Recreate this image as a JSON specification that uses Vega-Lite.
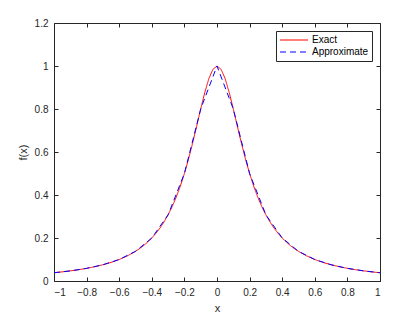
{
  "$schema": "https://vega.github.io/schema/vega-lite/v6.json",
  "width": 326,
  "height": 258,
  "autosize": {"type": "none"},
  "padding": {"left": 54, "top": 23, "right": 40, "bottom": 34},
  "background": "white",
  "config": {
    "view": {"stroke": null},
    "font": "Liberation Sans",
    "axis": {
      "grid": false,
      "domainColor": "#262626",
      "tickColor": "#262626",
      "labelColor": "#262626",
      "titleColor": "#262626",
      "labelFont": "Liberation Sans",
      "titleFont": "Liberation Sans",
      "labelFontSize": 10,
      "titleFontSize": 11,
      "titleFontWeight": "normal",
      "tickSize": -4,
      "labelPadding": 10
    }
  },
  "data": {
    "values": [
      {"x": -1, "y": 0.03846, "series": "Exact"},
      {"x": -0.95, "y": 0.04244, "series": "Exact"},
      {"x": -0.9, "y": 0.04706, "series": "Exact"},
      {"x": -0.85, "y": 0.05246, "series": "Exact"},
      {"x": -0.8, "y": 0.05882, "series": "Exact"},
      {"x": -0.75, "y": 0.06639, "series": "Exact"},
      {"x": -0.7, "y": 0.07547, "series": "Exact"},
      {"x": -0.65, "y": 0.08649, "series": "Exact"},
      {"x": -0.6, "y": 0.1, "series": "Exact"},
      {"x": -0.55, "y": 0.11679, "series": "Exact"},
      {"x": -0.5, "y": 0.13793, "series": "Exact"},
      {"x": -0.475, "y": 0.15059, "series": "Exact"},
      {"x": -0.45, "y": 0.16495, "series": "Exact"},
      {"x": -0.425, "y": 0.1813, "series": "Exact"},
      {"x": -0.4, "y": 0.2, "series": "Exact"},
      {"x": -0.375, "y": 0.22145, "series": "Exact"},
      {"x": -0.35, "y": 0.24615, "series": "Exact"},
      {"x": -0.325, "y": 0.27468, "series": "Exact"},
      {"x": -0.3, "y": 0.30769, "series": "Exact"},
      {"x": -0.275, "y": 0.34595, "series": "Exact"},
      {"x": -0.25, "y": 0.39024, "series": "Exact"},
      {"x": -0.225, "y": 0.44138, "series": "Exact"},
      {"x": -0.2, "y": 0.5, "series": "Exact"},
      {"x": -0.175, "y": 0.56637, "series": "Exact"},
      {"x": -0.15, "y": 0.64, "series": "Exact"},
      {"x": -0.125, "y": 0.7191, "series": "Exact"},
      {"x": -0.1, "y": 0.8, "series": "Exact"},
      {"x": -0.075, "y": 0.87671, "series": "Exact"},
      {"x": -0.05, "y": 0.94118, "series": "Exact"},
      {"x": -0.025, "y": 0.98462, "series": "Exact"},
      {"x": 0, "y": 1, "series": "Exact"},
      {"x": 0.025, "y": 0.98462, "series": "Exact"},
      {"x": 0.05, "y": 0.94118, "series": "Exact"},
      {"x": 0.075, "y": 0.87671, "series": "Exact"},
      {"x": 0.1, "y": 0.8, "series": "Exact"},
      {"x": 0.125, "y": 0.7191, "series": "Exact"},
      {"x": 0.15, "y": 0.64, "series": "Exact"},
      {"x": 0.175, "y": 0.56637, "series": "Exact"},
      {"x": 0.2, "y": 0.5, "series": "Exact"},
      {"x": 0.225, "y": 0.44138, "series": "Exact"},
      {"x": 0.25, "y": 0.39024, "series": "Exact"},
      {"x": 0.275, "y": 0.34595, "series": "Exact"},
      {"x": 0.3, "y": 0.30769, "series": "Exact"},
      {"x": 0.325, "y": 0.27468, "series": "Exact"},
      {"x": 0.35, "y": 0.24615, "series": "Exact"},
      {"x": 0.375, "y": 0.22145, "series": "Exact"},
      {"x": 0.4, "y": 0.2, "series": "Exact"},
      {"x": 0.425, "y": 0.1813, "series": "Exact"},
      {"x": 0.45, "y": 0.16495, "series": "Exact"},
      {"x": 0.475, "y": 0.15059, "series": "Exact"},
      {"x": 0.5, "y": 0.13793, "series": "Exact"},
      {"x": 0.55, "y": 0.11679, "series": "Exact"},
      {"x": 0.6, "y": 0.1, "series": "Exact"},
      {"x": 0.65, "y": 0.08649, "series": "Exact"},
      {"x": 0.7, "y": 0.07547, "series": "Exact"},
      {"x": 0.75, "y": 0.06639, "series": "Exact"},
      {"x": 0.8, "y": 0.05882, "series": "Exact"},
      {"x": 0.85, "y": 0.05246, "series": "Exact"},
      {"x": 0.9, "y": 0.04706, "series": "Exact"},
      {"x": 0.95, "y": 0.04244, "series": "Exact"},
      {"x": 1, "y": 0.03846, "series": "Exact"},
      {"x": -1, "y": 0.03846, "series": "Approximate"},
      {"x": -0.9, "y": 0.04706, "series": "Approximate"},
      {"x": -0.8, "y": 0.05882, "series": "Approximate"},
      {"x": -0.7, "y": 0.07547, "series": "Approximate"},
      {"x": -0.6, "y": 0.1, "series": "Approximate"},
      {"x": -0.5, "y": 0.13793, "series": "Approximate"},
      {"x": -0.4, "y": 0.2, "series": "Approximate"},
      {"x": -0.3, "y": 0.30769, "series": "Approximate"},
      {"x": -0.2, "y": 0.5, "series": "Approximate"},
      {"x": -0.1, "y": 0.8, "series": "Approximate"},
      {"x": 0, "y": 1, "series": "Approximate"},
      {"x": 0.1, "y": 0.8, "series": "Approximate"},
      {"x": 0.2, "y": 0.5, "series": "Approximate"},
      {"x": 0.3, "y": 0.30769, "series": "Approximate"},
      {"x": 0.4, "y": 0.2, "series": "Approximate"},
      {"x": 0.5, "y": 0.13793, "series": "Approximate"},
      {"x": 0.6, "y": 0.1, "series": "Approximate"},
      {"x": 0.7, "y": 0.07547, "series": "Approximate"},
      {"x": 0.8, "y": 0.05882, "series": "Approximate"},
      {"x": 0.9, "y": 0.04706, "series": "Approximate"},
      {"x": 1, "y": 0.03846, "series": "Approximate"}
    ]
  },
  "layer": [
    {
      "mark": {"type": "line", "strokeWidth": 1, "clip": true},
      "encoding": {
        "x": {
          "field": "x", "type": "quantitative",
          "scale": {"domain": [-1, 1], "nice": false, "zero": false},
          "axis": {"values": [-1, -0.8, -0.6, -0.4, -0.2, 0, 0.2, 0.4, 0.6, 0.8, 1], "format": "~g", "title": "x", "titlePadding": 5, "orient": "bottom"}
        },
        "y": {
          "field": "y", "type": "quantitative",
          "scale": {"domain": [0, 1.2], "nice": false},
          "axis": {"values": [0, 0.2, 0.4, 0.6, 0.8, 1, 1.2], "format": "~g", "title": "f(x)", "titlePadding": 6, "orient": "left"}
        },
        "order": {"field": "x", "type": "quantitative"},
        "color": {
          "field": "series", "type": "nominal",
          "scale": {"domain": ["Exact", "Approximate"], "range": ["#ff0000", "#0000ff"]},
          "legend": {
            "title": null,
            "orient": "top-right",
            "offset": 8,
            "fillColor": "white",
            "strokeColor": "#262626",
            "padding": 3,
            "symbolType": "M-1,0H1",
            "symbolSize": 784,
            "symbolStrokeWidth": 1.2,
            "labelFont": "Liberation Sans",
            "labelFontSize": 10,
            "labelColor": "#000000",
            "labelOffset": 3,
            "clipHeight": 12,
            "rowPadding": 0
          }
        },
        "strokeDash": {
          "field": "series", "type": "nominal",
          "scale": {"domain": ["Exact", "Approximate"], "range": [[1, 0], [6, 4]]},
          "legend": null
        }
      }
    },
    {
      "mark": {"type": "line", "opacity": 0},
      "encoding": {
        "x": {
          "field": "x", "type": "quantitative",
          "scale": {"domain": [-1, 1], "nice": false, "zero": false},
          "axis": {"values": [-1, -0.8, -0.6, -0.4, -0.2, 0, 0.2, 0.4, 0.6, 0.8, 1], "labels": false, "title": null, "orient": "top"}
        },
        "y": {
          "field": "y", "type": "quantitative",
          "scale": {"domain": [0, 1.2], "nice": false},
          "axis": {"values": [0, 0.2, 0.4, 0.6, 0.8, 1, 1.2], "labels": false, "title": null, "orient": "right"}
        }
      }
    }
  ],
  "resolve": {"axis": {"x": "independent", "y": "independent"}}
}
